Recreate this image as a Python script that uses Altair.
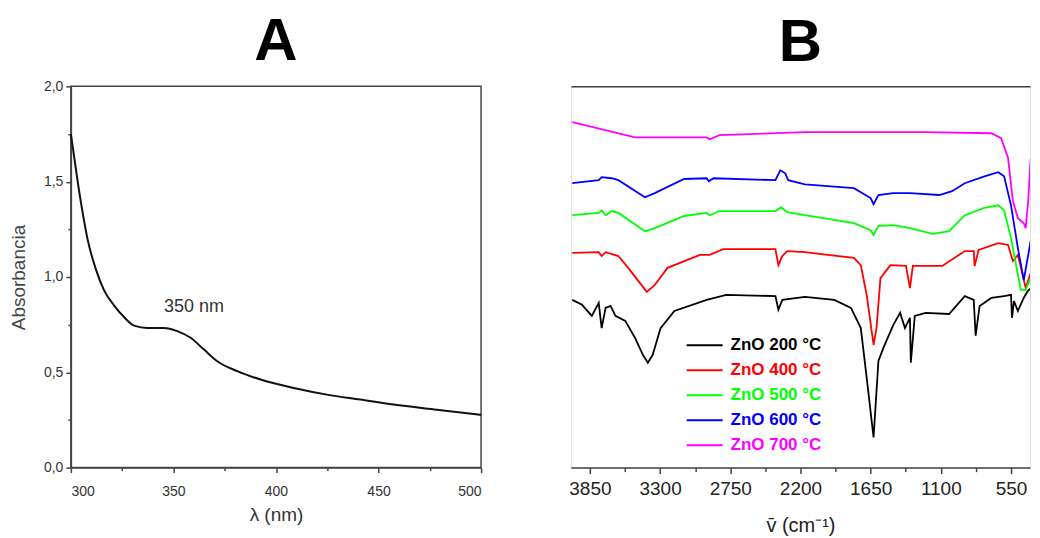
import altair as alt
import pandas as pd

FONT = "Liberation Sans"

# ---------------- Panel A : UV-Vis absorbance ----------------
lam_A = [300, 301.6, 303.2, 305.7, 308.1, 312.2, 316.2, 321.1, 325.9, 330.8, 337.3, 345.4,
         351.9, 358.4, 364.9, 371.4, 381.1, 392.5, 408.7, 424.9, 441.1, 457.3, 478.4, 500]
abs_A = [1.75, 1.63, 1.51, 1.34, 1.20, 1.04, 0.93, 0.85, 0.79, 0.745, 0.733, 0.733,
         0.716, 0.681, 0.619, 0.558, 0.506, 0.462, 0.418, 0.383, 0.357, 0.331, 0.304, 0.277]
peak_lam = [360]
peak_abs = [0.84]
peak_text = ["350 nm"]

# ---------------- Panel B : FTIR spectra ----------------
series = ["ZnO 200 °C", "ZnO 400 °C", "ZnO 500 °C", "ZnO 600 °C", "ZnO 700 °C"]
colors = ["#000000", "#ff0000", "#00ff00", "#0000ff", "#ff00ff"]

wn_200 = [3988, 3912, 3835, 3781, 3758, 3727, 3688, 3650, 3573, 3496, 3435, 3396, 3358, 3296, 3188,
          2935, 2781, 2396, 2373, 2342, 2165, 1935, 1804, 1727, 1681, 1627, 1589, 1550, 1473, 1419,
          1381, 1342, 1335, 1304, 1219, 1035, 912, 842, 827, 796, 704, 604, 550, 542, 527, 496, 450, 419, 396]
t_200 = [44.0, 42.7, 39.8, 43.2, 36.6, 41.9, 42.4, 39.8, 38.5, 34.0, 29.6, 27.5, 29.6, 36.6, 41.1,
         44.0, 45.3, 45.0, 41.4, 44.0, 44.8, 44.0, 41.9, 36.6, 23.6, 7.9, 28.0, 31.4, 37.4, 40.6,
         36.6, 39.3, 27.5, 39.8, 40.6, 40.3, 45.0, 44.0, 34.6, 42.4, 44.5, 45.0, 45.3, 39.3, 43.7, 41.1, 44.5, 46.3, 47.0]

wn_400 = [3988, 3781, 3758, 3727, 3627, 3550, 3404, 3342, 3242, 2988, 2912, 2804, 2396, 2373, 2342,
          2304, 2165, 1781, 1727, 1681, 1627, 1604, 1573, 1496, 1373, 1342, 1319, 1088, 912, 842,
          835, 804, 650, 573, 535, 496, 435, 396]
t_400 = [56.3, 56.5, 55.5, 56.5, 55.5, 52.4, 46.1, 47.9, 52.4, 55.8, 55.8, 57.3, 57.3, 53.1, 55.5,
         56.8, 56.5, 55.0, 53.1, 45.3, 32.2, 36.6, 49.7, 53.1, 52.9, 47.1, 52.9, 52.9, 56.8, 56.8,
         52.9, 57.1, 58.9, 58.4, 54.2, 55.8, 47.1, 51.0]

wn_500 = [3988, 3781, 3758, 3727, 3681, 3627, 3419, 3342, 3112, 2935, 2912, 2835, 2396, 2350, 2304,
          2165, 1781, 1650, 1627, 1589, 1473, 1342, 1165, 1035, 912, 758, 650, 604, 550, 473, 435, 396]
t_500 = [66.2, 66.8, 67.5, 66.2, 67.3, 66.8, 62.0, 62.8, 66.0, 66.8, 66.2, 67.3, 67.3, 68.3, 67.0,
         66.2, 64.1, 62.3, 61.0, 63.4, 63.6, 62.8, 61.3, 62.0, 66.2, 68.1, 68.8, 67.5, 60.2, 46.6, 46.6, 49.7]

wn_600 = [3988, 3781, 3758, 3681, 3627, 3419, 3342, 3112, 2935, 2919, 2881, 2396, 2358, 2319, 2296,
          2165, 1781, 1650, 1627, 1589, 1473, 1342, 1112, 1012, 912, 758, 650, 604, 550, 496, 450, 396]
t_600 = [74.6, 75.4, 76.2, 75.9, 75.4, 70.9, 72.0, 75.7, 75.9, 75.1, 75.9, 75.4, 78.0, 77.2, 75.4,
         74.3, 73.3, 70.7, 69.1, 71.5, 72.0, 72.0, 71.5, 72.5, 74.6, 76.4, 77.5, 76.4, 68.8, 57.6, 49.2, 59.4]

wn_700 = [3988, 3496, 2935, 2912, 2835, 2165, 1220, 704, 627, 573, 535, 496, 450, 435, 415, 396]
t_700 = [90.6, 86.6, 86.6, 86.1, 87.2, 88.0, 88.0, 87.7, 86.4, 81.2, 69.9, 65.4, 64.1, 62.8, 70.0, 81.0]

wn_all = [wn_200, wn_400, wn_500, wn_600, wn_700]
t_all = [t_200, t_400, t_500, t_600, t_700]

dfA = pd.DataFrame({"lam": lam_A, "absorb": abs_A})
dfPeak = pd.DataFrame({"lam": peak_lam, "absorb": peak_abs, "txt": peak_text})
rows = []
for name, wns, ts in zip(series, wn_all, t_all):
    for w, t in zip(wns, ts):
        rows.append({"wn": w, "T": t, "sample": name})
dfB = pd.DataFrame(rows)

AX = "#444444"

# ----- Panel A chart -----
xA = alt.X("lam:Q", scale=alt.Scale(domain=[300, 500], nice=False, zero=False),
           axis=alt.Axis(values=[300, 325, 350, 375, 400, 425, 450, 475, 500],
                         labelExpr="datum.value % 50 == 0 ? datum.label : ''",
                         tickSize={"condition": {"test": "datum.value % 50 != 0", "value": 3}, "value": 5},
                         title="λ (nm)", grid=False, labelFont=FONT, labelFontSize=14,
                         labelColor="#333333", titleFont=FONT, titleFontSize=19,
                         titleFontWeight="normal", titleColor="#333333", labelPadding=12,
                         titlePadding=7, domainColor=AX, domainWidth=1.5, tickColor=AX,
                         tickWidth=1.5))
yA = alt.Y("absorb:Q", scale=alt.Scale(domain=[0, 2], nice=False, zero=False),
           axis=alt.Axis(values=[0, 0.25, 0.5, 0.75, 1.0, 1.25, 1.5, 1.75, 2.0],
                         labelExpr="(datum.value*2) % 1 == 0 ? replace(format(datum.value, '.1f'), '.', ',') : ''",
                         tickSize={"condition": {"test": "(datum.value*2) % 1 != 0", "value": 3}, "value": 5},
                         title="Absorbancia", grid=False, labelFont=FONT, labelFontSize=14,
                         labelColor="#333333", titleFont=FONT, titleFontSize=19,
                         titleFontWeight="normal", titleColor="#444444", labelPadding=3,
                         titlePadding=15, domainColor=AX, domainWidth=1.5, tickColor=AX,
                         tickWidth=1.5))

lineA = alt.Chart(dfA).mark_line(color="#111111", strokeWidth=2, interpolate="monotone").encode(x=xA, y=yA)
textA = alt.Chart(dfPeak).mark_text(font=FONT, fontSize=18, color="#333333").encode(
    x="lam:Q", y="absorb:Q", text="txt:N")

chartA = alt.layer(lineA, textA).properties(
    width=411, height=382,
    view=alt.ViewBackground(stroke=AX, strokeWidth=1.5),
    title=alt.TitleParams("A", font=FONT, fontSize=60, fontWeight="bold", color="black",
                          anchor="middle", frame="group", baseline="alphabetic", offset=-41),
)

# ----- Panel B chart -----
xscaleB = alt.Scale(domain=[3999, 401], nice=False, zero=False)
xB = alt.X("wn:Q", scale=xscaleB,
           axis=alt.Axis(values=[3850, 3575, 3300, 3025, 2750, 2475, 2200, 1925, 1650, 1375, 1100, 825, 550],
                         labelExpr="datum.value % 550 == 0 ? datum.label : ''",
                         tickSize={"condition": {"test": "datum.value % 550 != 0", "value": 4}, "value": 6},
                         format="d", title="v̄ (cm⁻¹)", grid=False, labelFont=FONT, labelFontSize=19,
                         labelColor="#222222", titleFont=FONT, titleFontSize=20,
                         titleFontWeight="normal", titleColor="#222222", labelPadding=6,
                         titlePadding=17, domainColor=AX, domainWidth=1.5, tickColor=AX,
                         tickWidth=1.5))
yscaleB = alt.Scale(domain=[0, 100], nice=False, zero=False)
yB = alt.Y("T:Q", scale=yscaleB,
           axis=alt.Axis(labels=False, ticks=False, title=None, grid=False,
                         domainColor=AX, domainWidth=1.5))

label_fill = "[" + ",".join("'%s'" % c for c in colors) + "][indexof([" + \
    ",".join("'%s'" % s for s in series) + "], datum.value)]"

linesB = alt.Chart(dfB).mark_line(strokeWidth=1.8, clip=True).encode(
    x=xB, y=yB,
    color=alt.Color("sample:N", scale=alt.Scale(domain=series, range=colors),
                    legend=alt.Legend(orient="none", legendX=115, legendY=248, title=None,
                                      symbolType="stroke", symbolSize=1296, symbolStrokeWidth=2,
                                      labelFont=FONT, labelFontSize=17, labelFontWeight="bold",
                                      labelOffset=7, rowPadding=2, clipHeight=23,
                                      labelColor={"expr": label_fill})),
    detail="sample:N",
)
topB = alt.Chart(dfB).mark_line(opacity=0).encode(
    x=alt.X("wn:Q", scale=xscaleB,
            axis=alt.Axis(orient="top", labels=False, ticks=False, title=None, grid=False,
                          domainColor=AX, domainWidth=1.5)),
    y=alt.Y("T:Q", scale=yscaleB, axis=None),
)

chartB = alt.layer(linesB, topB).resolve_axis(x="independent").properties(
    width=460, height=382,
    title=alt.TitleParams("B", font=FONT, fontSize=60, fontWeight="bold", color="black",
                          anchor="middle", frame="group", baseline="alphabetic", offset=-35),
)

chart = alt.hconcat(chartA, chartB, spacing=82).resolve_legend(color="independent").resolve_scale(
    color="independent").properties(
    padding={"left": 0, "top": 3, "right": 0, "bottom": 0}
).configure_view(stroke=None).configure(background="white")

chart.save("out.html", embed_options={"renderer": "svg", "actions": False})
